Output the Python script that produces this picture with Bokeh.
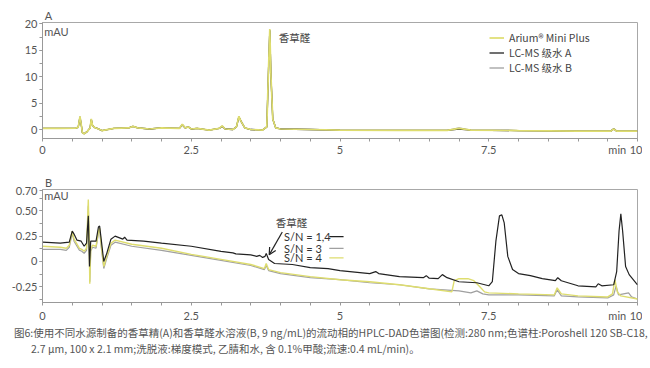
from bokeh.plotting import figure
from bokeh.models import (FixedTicker, Label, Legend, LegendItem, Arrow, OpenHead, Div, Range1d,
                          ColumnDataSource, LinearAxis, AllLabels, CustomJSTickFormatter)
from bokeh.layouts import column
from bokeh.embed import file_html
from bokeh.resources import INLINE

# ---------------- data ----------------
# Panel A: vanillin extract, mAU
tA = [0, 0.3, 0.55, 0.6, 0.63, 0.65, 0.67, 0.70, 0.75, 0.80, 0.82, 0.84, 0.87, 0.92, 1.0, 1.2,
      1.45, 1.52, 1.6, 1.8, 2.0, 2.3, 2.35, 2.4, 2.45, 2.5, 2.6, 2.8, 2.97, 3.02, 3.07, 3.2,
      3.26, 3.3, 3.34, 3.4, 3.5, 3.7, 3.77, 3.80, 3.82, 3.84, 3.87, 3.92, 4.0, 4.5, 5, 6,
      6.8, 7.0, 7.2, 8, 9, 9.55, 9.6, 9.65, 10]
yA_arium = [0.2, 0.2, 0.25, 0.4, 2.5, 1.0, -0.6, -0.8, -0.4, 0.3, 2.0, 0.8, 0.4, 0.2, -0.2, 0.2,
            0.3, 0.6, 0.3, 0.1, 0.3, 0.2, 1.0, 0.3, 0.5, 0.1, 0.2, -0.1, 0.2, 0.7, 0.1, 0.0,
            0.5, 2.5, 1.5, 0.3, 0.0, -0.1, 0.5, 12, 19, 10, 2, 0.3, 0.1, 0.0, -0.1, -0.15,
            -0.15, 0.2, -0.1, -0.2, -0.3, -0.3, 0.1, -0.3, -0.3]
yA_lcmsA = [0.2, 0.2, 0.25, 0.4, 2.4, 1.0, -0.6, -0.8, -0.4, 0.3, 1.9, 0.8, 0.4, 0.2, -0.2, 0.2,
            0.3, 0.6, 0.3, 0.1, 0.3, 0.2, 0.9, 0.3, 0.5, 0.1, 0.2, -0.1, 0.2, 0.6, 0.1, 0.0,
            0.5, 2.4, 1.5, 0.3, 0.0, -0.1, 0.5, 11.8, 18.8, 10, 2, 0.3, 0.1, 0.0, -0.1, -0.15,
            -0.15, 0.1, -0.1, -0.2, -0.3, -0.3, 0.1, -0.3, -0.3]
yA_lcmsB = [0.2, 0.2, 0.25, 0.4, 2.4, 1.0, -0.6, -0.8, -0.4, 0.3, 1.9, 0.8, 0.4, 0.2, -0.2, 0.2,
            0.3, 0.6, 0.3, 0.1, 0.3, 0.2, 0.9, 0.3, 0.5, 0.1, 0.2, -0.1, 0.2, 0.6, 0.1, 0.0,
            0.5, 2.4, 1.5, 0.3, 0.0, -0.1, 0.5, 11.8, 18.8, 10, 2, 0.3, 0.1, 0.0, -0.1, -0.15,
            -0.15, 0.3, -0.1, -0.2, -0.3, -0.3, 0.2, -0.3, -0.3]

# Panel B: vanillin solution 9 ng/mL, mAU
tB_black = [0, 0.3, 0.45, 0.5, 0.53, 0.58, 0.65, 0.70, 0.74, 0.77, 0.79, 0.81, 0.84, 0.9, 0.94,
            0.96, 0.99, 1.03, 1.08, 1.15, 1.22, 1.35, 1.38, 1.42, 1.7, 2.0, 2.5, 3.0, 3.2, 3.25,
            3.5, 3.6, 3.65, 3.7, 3.74, 3.76, 3.8, 3.9, 4.2, 4.5, 4.8, 5.0, 5.5, 5.6, 5.65, 6.0,
            6.4, 6.45, 6.5, 6.65, 6.72, 6.8, 7.0, 7.3, 7.5, 7.56, 7.62, 7.68, 7.72, 7.76, 7.82,
            7.9, 8.0, 8.2, 8.4, 8.62, 8.66, 8.72, 9.0, 9.3, 9.34, 9.4, 9.6, 9.65, 9.69, 9.72,
            9.75, 9.8, 9.86, 10]
yB_black = [0.19, 0.18, 0.19, 0.30, 0.27, 0.21, 0.20, 0.15, 0.18, 0.45, -0.05, 0.20, 0.20, 0.20, 0.34,
            0.35, 0.20, 0.0, 0.08, 0.22, 0.25, 0.22, 0.24, 0.21, 0.20, 0.18, 0.15, 0.10, 0.085, 0.075,
            0.065, 0.05, 0.06, 0.04, 0.05, 0.08, 0.02, -0.02, -0.03, -0.06, -0.07, -0.09, -0.12, -0.10, -0.12, -0.15,
            -0.16, -0.14, -0.165, -0.17, -0.13, -0.16, -0.20, -0.21, -0.24, -0.20, 0.20, 0.45, 0.46, 0.38, 0.05,
            -0.08, -0.12, -0.14, -0.17, -0.19, -0.16, -0.19, -0.24, -0.25, -0.22, -0.24, -0.23, -0.10, 0.30, 0.47,
            0.30, -0.05, -0.13, -0.23]

tB_yellow = [0, 0.3, 0.4, 0.45, 0.5, 0.53, 0.58, 0.62, 0.66, 0.70, 0.74, 0.77, 0.785, 0.795, 0.81,
             0.84, 0.9, 0.94, 0.96, 0.99, 1.03, 1.08, 1.15, 1.22, 1.5, 2.0, 2.5, 3.0, 3.5, 3.73,
             3.76, 3.8, 4.0, 4.5, 5.0, 5.5, 6.0, 6.5, 6.88, 6.92, 7.0, 7.15, 7.25, 7.35, 7.43,
             7.5, 8.0, 8.6, 8.65, 8.72, 9.0, 9.5, 9.58, 9.62, 9.66, 9.72, 10]
yB_yellow = [0.15, 0.14, 0.13, 0.16, 0.30, 0.22, 0.17, 0.13, 0.12, 0.10, 0.13, 0.61, 0.2, -0.22, 0.12,
             0.16, 0.15, 0.30, 0.33, 0.15, -0.05, 0.05, 0.18, 0.21, 0.17, 0.13, 0.07, 0.02, -0.03, -0.07,
             -0.02, -0.08, -0.11, -0.15, -0.18, -0.20, -0.23, -0.27, -0.30, -0.19, -0.17, -0.17, -0.19, -0.25, -0.30,
             -0.31, -0.32, -0.33, -0.26, -0.32, -0.34, -0.35, -0.32, -0.18, -0.30, -0.34, -0.37]

tB_gray = [0, 0.3, 0.4, 0.45, 0.5, 0.53, 0.58, 0.62, 0.66, 0.7, 0.74, 0.77, 0.785, 0.795, 0.81,
           0.84, 0.9, 0.94, 0.96, 0.99, 1.03, 1.08, 1.15, 1.22, 1.5, 2.0, 2.5, 3.0, 3.5, 3.73,
           3.76, 3.8, 4.0, 4.5, 5.0, 5.5, 6.0, 6.5, 7.0, 7.2, 7.3, 7.4, 7.5, 8.0, 8.6, 8.65,
           8.72, 9.0, 9.5, 9.6, 9.64, 9.68, 9.85, 9.9, 10]
yB_gray = [0.12, 0.12, 0.11, 0.14, 0.28, 0.20, 0.15, 0.11, 0.10, 0.08, 0.11, 0.55, 0.15, -0.20, 0.10,
           0.14, 0.13, 0.28, 0.31, 0.13, -0.07, 0.03, 0.16, 0.19, 0.15, 0.11, 0.06, 0.01, -0.04, -0.08,
           -0.04, -0.09, -0.12, -0.16, -0.18, -0.21, -0.23, -0.27, -0.29, -0.31, -0.29, -0.32, -0.33, -0.33, -0.34, -0.28,
           -0.34, -0.35, -0.36, -0.33, -0.24, -0.33, -0.31, -0.35, -0.37]

x_ticks = [0.0, 2.5, 5.0, 7.5, 10.0]
x_tick_labels = ["0", "2.5", "5", "7.5", "10"]
x_unit = "min"
yA_ticks = [0, 5, 10, 15, 20]
yB_ticks = [-0.25, 0.0, 0.25, 0.5, 0.7]
series_names = ["Arium\u00ae Mini Plus", "LC-MS \u7ea7\u6c34 A", "LC-MS \u7ea7\u6c34 B"]
sn_labels = ["S/N = 1,4", "S/N = 3", "S/N = 4"]

YELLOW = "#dedd6e"
BLACK = "#222222"
GRAY = "#a0a0a0"
TXT = "#555555"
FONT = "Lato"
CJK = "Noto Sans CJK SC"
UNIT_POS = 9.66   # where the "min" unit text sits on the time axis


def style(p, yticks, yminor, panel, xstandoff):
    p.outline_line_color = "#a8a8a8"
    p.outline_line_width = 1
    p.xgrid.visible = False
    p.ygrid.visible = False
    p.background_fill_color = "white"
    p.border_fill_color = "white"
    xt = x_ticks[:-1] + [UNIT_POS] + x_ticks[-1:]
    xl = x_tick_labels[:-1] + [x_unit] + x_tick_labels[-1:]
    p.xaxis.ticker = FixedTicker(ticks=xt, minor_ticks=[i * 0.5 for i in range(21)])
    p.xaxis.major_label_overrides = {k: v for k, v in zip(xt, xl)}
    p.xaxis.major_tick_line_color = None   # all visible tick marks are the 0.5-min minor ticks
    p.yaxis.ticker = FixedTicker(ticks=yticks, minor_ticks=yminor)
    p.yaxis.major_tick_line_color = "#999999"
    for ax in (p.xaxis[0], p.yaxis[0]):
        ax.major_label_policy = AllLabels()
        ax.axis_line_color = "#999999"
        ax.minor_tick_line_color = "#999999"
        ax.major_tick_in = 0
        ax.minor_tick_in = 0
        ax.major_tick_out = 3
        ax.minor_tick_out = 3
        ax.major_label_text_color = TXT
        ax.major_label_text_font = FONT
        ax.major_label_text_font_size = "11px"
    p.xaxis.major_label_standoff = xstandoff
    p.yaxis.major_label_standoff = 2
    # panel letter as an extra, line-less axis above the frame
    top = LinearAxis(ticker=FixedTicker(ticks=[0.1], minor_ticks=[]),
                     major_label_overrides={0.1: panel}, major_label_policy=AllLabels(),
                     axis_line_color=None, major_tick_line_color=None, minor_tick_line_color=None,
                     major_tick_out=0, major_tick_in=0, major_label_standoff=1,
                     major_label_text_font=FONT, major_label_text_font_size="11px",
                     major_label_text_color=TXT)
    p.add_layout(top, "above")


# ---------------- Panel A ----------------
pA = figure(width=642, height=162, output_backend="svg", toolbar_location=None,
            x_range=Range1d(0, 10), y_range=Range1d(-1.7, 20.25),
            min_border_left=42, min_border_right=5, min_border_top=22, min_border_bottom=24)
style(pA, yA_ticks, [i * 2.5 for i in range(9)], "A", 1)

rA2 = pA.line(tA, yA_lcmsB, line_color=GRAY, line_width=1.3)
rA1 = pA.line(tA, yA_lcmsA, line_color=BLACK, line_width=1.3)
rA0 = pA.line(tA, yA_arium, line_color=YELLOW, line_width=1.7)

legA = Legend(items=[LegendItem(label=series_names[0], renderers=[rA0]),
                     LegendItem(label=series_names[1], renderers=[rA1]),
                     LegendItem(label=series_names[2], renderers=[rA2])],
              location=(447, 63), orientation="vertical", padding=0, margin=0, spacing=0,
              glyph_width=15, glyph_height=13, label_standoff=5, label_height=13,
              border_line_color=None, background_fill_alpha=0,
              label_text_font=CJK, label_text_font_size="10.5px", label_text_color="#444444")
pA.add_layout(legA)

pA.add_layout(Label(x=0.03, y=18.6, text="mAU", text_font=FONT, text_font_size="11px",
                    text_color=TXT, text_baseline="middle"))
pA.add_layout(Label(x=3.97, y=17.4, text="\u9999\u8349\u919b", text_font=CJK, text_font_size="10.5px",
                    text_color="#444444", text_baseline="middle"))

# ---------------- Panel B ----------------
pB = figure(width=642, height=162, output_backend="svg", toolbar_location=None,
            x_range=Range1d(0, 10), y_range=Range1d(-0.405, 0.71),
            min_border_left=42, min_border_right=5, min_border_top=27, min_border_bottom=19)
style(pB, yB_ticks, [-0.375 + i * 0.125 for i in range(10)], "B", 3)
pB.yaxis.formatter = CustomJSTickFormatter(code="return tick == 0 ? '0' : tick.toFixed(2);")

pB.line(tB_gray, yB_gray, line_color=GRAY, line_width=1.2)
pB.line(tB_yellow, yB_yellow, line_color=YELLOW, line_width=1.4)
pB.line(tB_black, yB_black, line_color=BLACK, line_width=1.2)

pB.add_layout(Label(x=0.03, y=0.65, text="mAU", text_font=FONT, text_font_size="11px",
                    text_color=TXT, text_baseline="middle"))
pB.add_layout(Label(x=3.92, y=0.38, text="\u9999\u8349\u919b", text_font=CJK, text_font_size="10.5px",
                    text_color="#444444", text_baseline="middle"))
pB.add_layout(Arrow(end=OpenHead(size=7, line_color="#222222", line_width=1.2),
                    x_start=4.03, y_start=0.29, x_end=3.81, y_end=0.065,
                    line_color="#222222", line_width=1.2))

sn_y = [0.245, 0.13, 0.035]
sn_col = [BLACK, GRAY, YELLOW]
for lab, yy, c in zip(sn_labels, sn_y, sn_col):
    pB.add_layout(Label(x=4.06, y=yy, text=lab, text_font=FONT, text_font_size="11px",
                        text_color="#333333", text_baseline="middle"))
src = ColumnDataSource(dict(x0=[4.82] * 3, x1=[5.06] * 3, y=sn_y, c=sn_col))
pB.segment(x0="x0", y0="y", x1="x1", y1="y", line_color="c", line_width=1.3, source=src)

# ---------------- caption ----------------
line1 = ("\u56fe6:\u4f7f\u7528\u4e0d\u540c\u6c34\u6e90\u5236\u5907\u7684\u9999\u8349\u7cbe(A)\u548c"
         "\u9999\u8349\u919b\u6c34\u6eb6\u6db2(B, 9 ng/mL)\u7684\u6d41\u52a8\u76f8\u7684HPLC-DAD"
         "\u8272\u8c31\u56fe(\u68c0\u6d4b:280 nm;\u8272\u8c31\u67f1:Poroshell 120 SB-C18,")
line2 = ("2.7 \u00b5m, 100 x 2.1 mm;\u6d17\u8131\u6db2:\u68af\u5ea6\u6a21\u5f0f, \u4e59\u8148\u548c\u6c34, "
         "\u542b 0.1%\u7532\u9178;\u6d41\u901f:0.4 mL/min)\u3002")
cap_style = ("font-family:'Noto Sans CJK SC','Lato',sans-serif;font-size:10.5px;color:#555555;"
             "line-height:16px;white-space:nowrap;")
caption = Div(text=(f'<div style="{cap_style}padding-left:9px;margin-top:-4px">{line1}</div>'
                    f'<div style="{cap_style}padding-left:26px">{line2}</div>'),
              width=642, height=32)

layout = column(pA, pB, caption, spacing=0)
open("out.html", "w").write(file_html(layout, INLINE))
